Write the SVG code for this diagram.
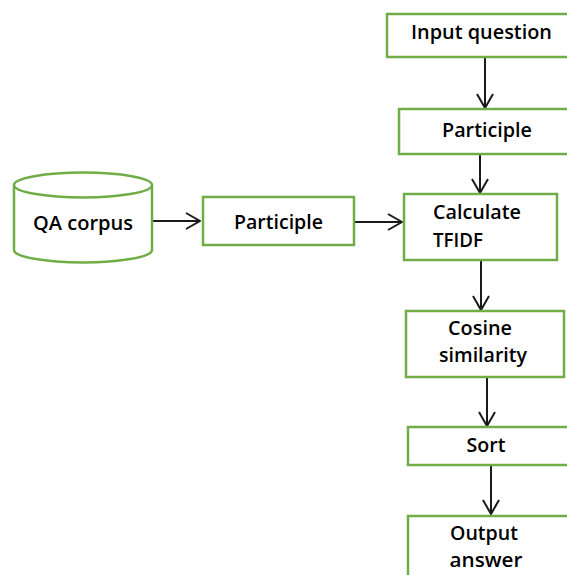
<svg xmlns="http://www.w3.org/2000/svg" width="567" height="575" viewBox="0 0 567 575">
<defs>
<style>
.box{fill:#fff;stroke:#70AD47;stroke-width:2.5}
.t{font-family:"Open Sans","Noto Sans",sans-serif;font-size:20.5px;font-weight:600;fill:#000}
.c{text-anchor:middle}
.e{stroke:#1a1a1a;stroke-width:2;fill:none}
</style>
<marker id="ah" viewBox="0 0 16 18" refX="15" refY="9" markerWidth="16" markerHeight="18" markerUnits="userSpaceOnUse" orient="auto">
<path d="M1,1 L15,9 L1,17" fill="none" stroke="#1a1a1a" stroke-width="2"/>
</marker>
</defs>
<rect width="567" height="575" fill="#fff"/>
<g id="connectors">
<line class="e" x1="485" y1="57" x2="485" y2="108" marker-end="url(#ah)"/>
<line class="e" x1="480" y1="154" x2="480" y2="193" marker-end="url(#ah)"/>
<line class="e" x1="481" y1="260" x2="481" y2="310" marker-end="url(#ah)"/>
<line class="e" x1="487" y1="377" x2="487" y2="426" marker-end="url(#ah)"/>
<line class="e" x1="491" y1="465" x2="491" y2="514" marker-end="url(#ah)"/>
<line class="e" x1="152" y1="221" x2="200" y2="221" marker-end="url(#ah)"/>
<line class="e" x1="354" y1="222" x2="402" y2="222" marker-end="url(#ah)"/>
</g>
<g id="qa_corpus">
<path class="box" d="M14,185 L14,250 A69,12.5 0 0 0 152,250 L152,185"/>
<ellipse class="box" cx="83" cy="185" rx="69" ry="12.5"/>
<text class="t c" x="83" y="230" textLength="100" lengthAdjust="spacingAndGlyphs">QA corpus</text>
</g>
<g id="participle_left">
<rect class="box" x="203" y="197" width="151" height="48"/>
<text class="t c" x="278.5" y="229" textLength="89" lengthAdjust="spacingAndGlyphs">Participle</text>
</g>
<g id="input_question">
<rect class="box" x="387" y="14" width="200" height="43"/>
<text class="t" x="411" y="39" textLength="141" lengthAdjust="spacingAndGlyphs">Input question</text>
</g>
<g id="participle_right">
<rect class="box" x="399" y="109" width="200" height="45"/>
<text class="t" x="442" y="137" textLength="90" lengthAdjust="spacingAndGlyphs">Participle</text>
</g>
<g id="calculate_tfidf">
<rect class="box" x="404" y="194" width="153" height="66"/>
<text class="t" x="433" y="219" textLength="88" lengthAdjust="spacingAndGlyphs">Calculate</text>
<text class="t" x="433" y="247" textLength="50" lengthAdjust="spacingAndGlyphs">TFIDF</text>
</g>
<g id="cosine_similarity">
<rect class="box" x="406" y="311" width="158" height="66"/>
<text class="t c" x="480" y="335" textLength="64" lengthAdjust="spacingAndGlyphs">Cosine</text>
<text class="t c" x="483" y="362" textLength="88" lengthAdjust="spacingAndGlyphs">similarity</text>
</g>
<g id="sort">
<rect class="box" x="408" y="427" width="200" height="38"/>
<text class="t c" x="486" y="452" textLength="39" lengthAdjust="spacingAndGlyphs">Sort</text>
</g>
<g id="output_answer">
<rect class="box" x="408" y="516" width="200" height="100"/>
<text class="t c" x="484" y="540" textLength="68" lengthAdjust="spacingAndGlyphs">Output</text>
<text class="t c" x="486" y="567" textLength="73" lengthAdjust="spacingAndGlyphs">answer</text>
</g>
</svg>
